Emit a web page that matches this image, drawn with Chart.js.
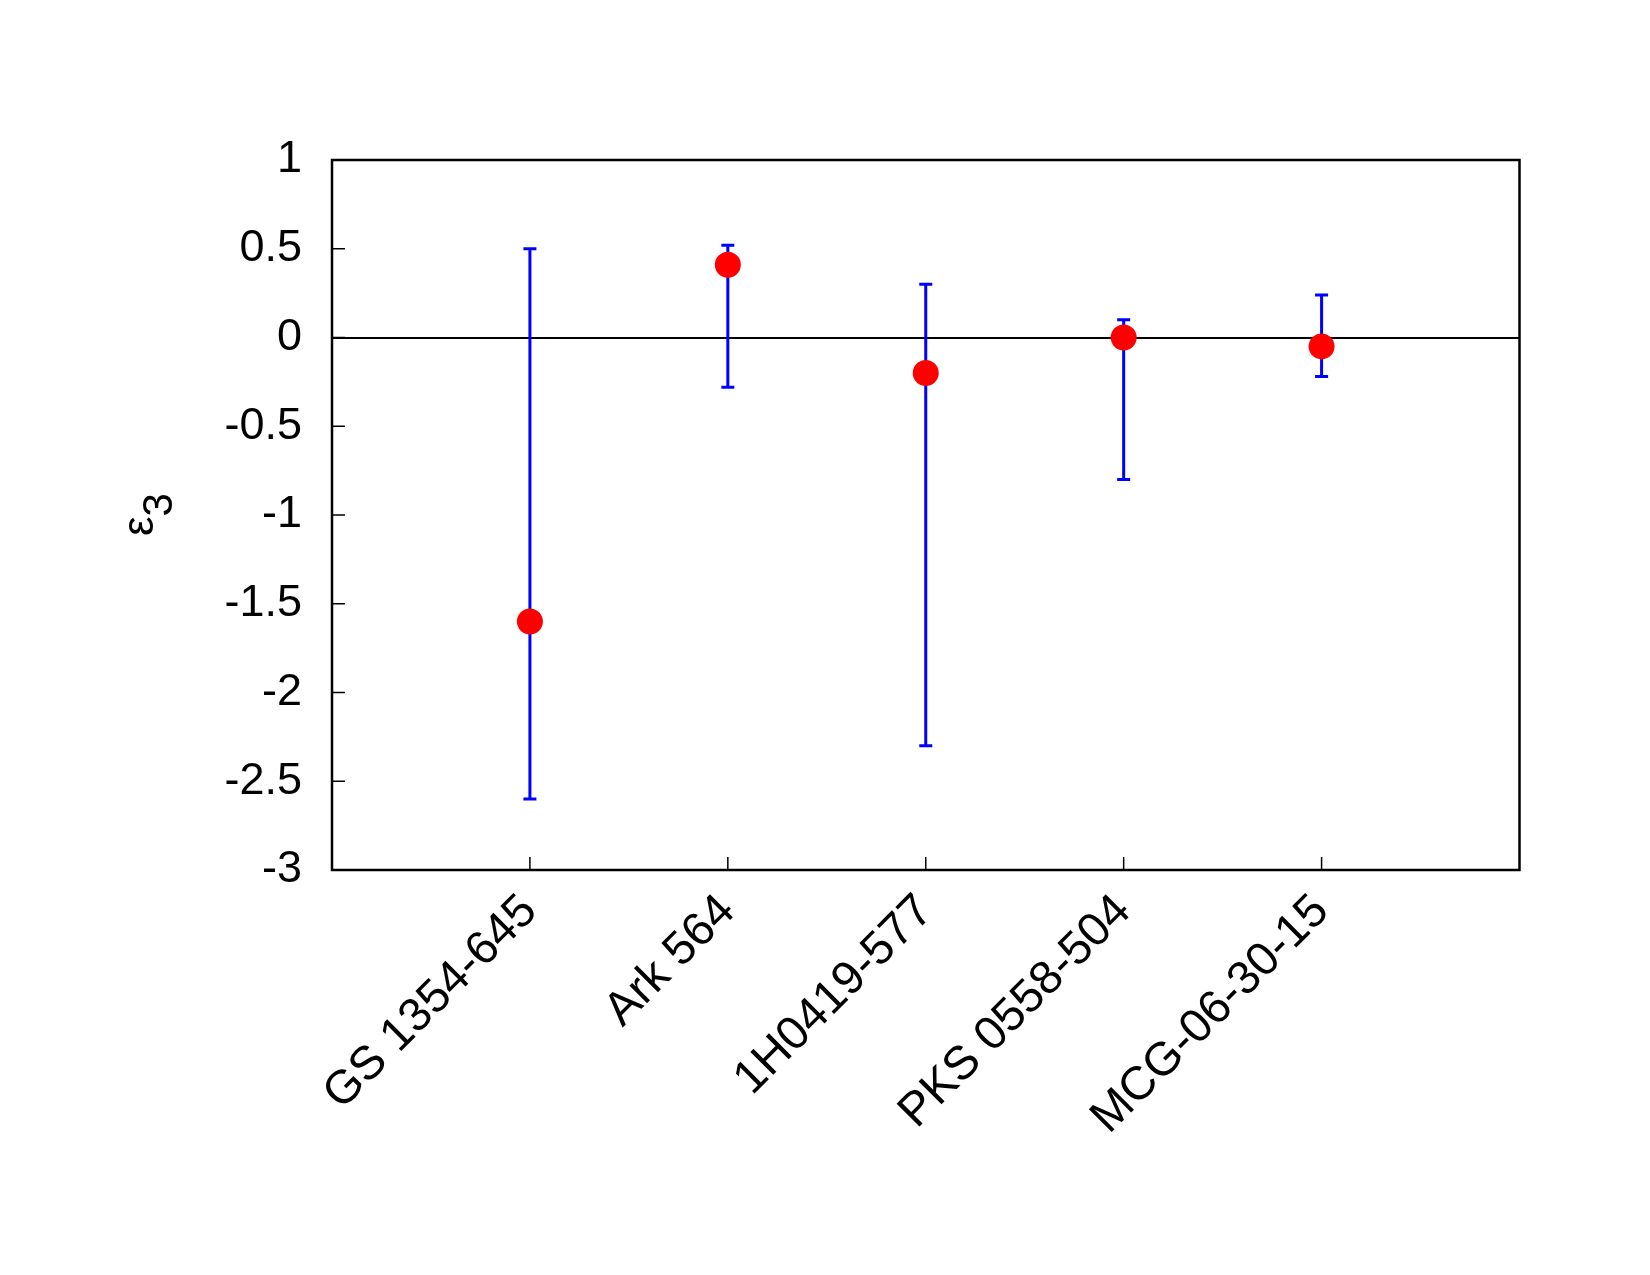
<!DOCTYPE html>
<html>
<head>
<meta charset="utf-8">
<script src="https://cdn.jsdelivr.net/npm/chart.js@4/dist/chart.umd.min.js"></script>
<style>
  html, body { margin: 0; padding: 0; background: #fff; }
  #wrap { width: 1650px; height: 1275px; }
</style>
</head>
<body>
<div id="wrap"><canvas id="myChart" width="1650" height="1275"></canvas></div>
<script>
// sources along the x axis
const sources = ['GS 1354-645', 'Ark 564', '1H0419-577', 'PKS 0558-504', 'MCG-06-30-15'];
// epsilon_3 best fit and the ends of its error bar
const eps3 = [-1.6, 0.41, -0.2, 0.0, -0.05];
const eps3Low = [-2.6, -0.28, -2.3, -0.8, -0.22];
const eps3High = [0.5, 0.52, 0.3, 0.1, 0.24];
const yTicks = [1, 0.5, 0, -0.5, -1, -1.5, -2, -2.5, -3];

const FONT = '"Liberation Sans", Arial, Helvetica, sans-serif';

const points = sources.map((name, i) => ({ x: i + 1, y: eps3[i] }));

// error bars under the red dots
const errorBars = {
  id: 'errorBars',
  beforeDatasetsDraw(chart) {
    const ctx = chart.ctx;
    const xs = chart.scales.x, ys = chart.scales.y;
    ctx.save();
    ctx.strokeStyle = '#0000ff';
    ctx.lineWidth = 3;
    sources.forEach((name, i) => {
      const px = xs.getPixelForValue(i + 1);
      const lo = ys.getPixelForValue(eps3Low[i]);
      const hi = ys.getPixelForValue(eps3High[i]);
      ctx.beginPath();
      ctx.moveTo(px, lo); ctx.lineTo(px, hi);
      ctx.moveTo(px - 6.5, lo); ctx.lineTo(px + 6.5, lo);
      ctx.moveTo(px - 6.5, hi); ctx.lineTo(px + 6.5, hi);
      ctx.stroke();
    });
    ctx.restore();
  }
};

// frame, inward tick marks and the y title
const frame = {
  id: 'frame',
  afterDraw(chart) {
    const ctx = chart.ctx;
    const a = chart.chartArea;
    const xs = chart.scales.x, ys = chart.scales.y;
    ctx.save();
    ctx.strokeStyle = '#000';
    ctx.lineWidth = 1.5;
    ctx.beginPath();
    yTicks.forEach(v => {
      const py = ys.getPixelForValue(v);
      ctx.moveTo(a.left, py); ctx.lineTo(a.left + 13, py);
    });
    sources.forEach((s, i) => {
      const px = xs.getPixelForValue(i + 1);
      ctx.moveTo(px, a.bottom); ctx.lineTo(px, a.bottom - 13);
    });
    ctx.stroke();
    ctx.lineWidth = 2.5;
    ctx.strokeRect(a.left, a.top, a.right - a.left, a.bottom - a.top);

    // ε with subscript 3, rotated
    ctx.translate(153, 536);
    ctx.rotate(-Math.PI / 2);
    ctx.fillStyle = '#000';
    ctx.textBaseline = 'alphabetic';
    ctx.textAlign = 'left';
    ctx.font = '44px ' + FONT;
    ctx.fillText('ε', 0, 0);
    const w = ctx.measureText('ε').width;
    ctx.font = '42px ' + FONT;
    ctx.fillText('3', w, 19);
    ctx.restore();
  }
};

new Chart(document.getElementById('myChart').getContext('2d'), {
  type: 'scatter',
  data: {
    datasets: [{
      data: points,
      backgroundColor: '#ff0000',
      borderWidth: 0,
      pointRadius: 13,
      pointHoverRadius: 13
    }]
  },
  options: {
    responsive: false,
    animation: false,
    devicePixelRatio: 1,
    layout: { padding: { left: 0, right: 130.5, top: 160, bottom: 0 } },
    plugins: { legend: { display: false }, tooltip: { enabled: false } },
    scales: {
      x: {
        type: 'linear',
        min: 0,
        max: 6,
        afterBuildTicks: (scale) => { scale.ticks = sources.map((s, i) => ({ value: i + 1 })); },
        afterFit: (scale) => { scale.height = 405; },
        grid: { display: false, drawTicks: false },
        border: { display: false },
        ticks: {
          autoSkip: false,
          minRotation: 45,
          maxRotation: 45,
          padding: 14,
          color: '#000',
          font: { family: FONT, size: 47 },
          callback: (v) => sources[v - 1] || ''
        }
      },
      y: {
        min: -3,
        max: 1,
        afterBuildTicks: (scale) => { scale.ticks = yTicks.map(v => ({ value: v })); },
        afterFit: (scale) => { scale.width = 332; },
        grid: {
          drawTicks: false,
          lineWidth: 2,
          color: (c) => (c.tick && c.tick.value === 0 ? '#000' : 'rgba(0,0,0,0)')
        },
        border: { display: false },
        ticks: {
          padding: 30,
          color: '#000',
          font: { family: FONT, size: 45 },
          callback: (v) => String(v)
        }
      }
    }
  },
  plugins: [errorBars, frame]
});
</script>
</body>
</html>
